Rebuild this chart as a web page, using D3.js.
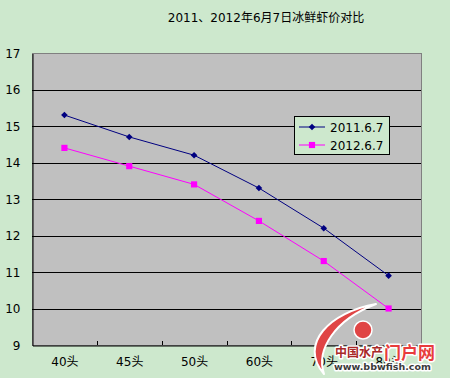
<script src='https://d3js.org/d3.v7.min.js'></script>
<style>
body { margin:0; background:#cde8cd; }
svg text { font-family: "DejaVu Sans", "Noto Sans CJK SC", sans-serif; }
</style>
<body>
<script>
// chart data
const categories = ["40头", "45头", "50头", "60头", "70头", "80头"];
const price2011 = [15.3, 14.7, 14.2, 13.3, 12.2, 10.9];
const price2012 = [14.4, 13.9, 13.4, 12.4, 11.3, 10.0];
const seriesNames = ["2011.6.7", "2012.6.7"];
const yTicks = [9, 10, 11, 12, 13, 14, 15, 16, 17];
const title = "2011、2012年6月7日冰鲜虾价对比";

const width = 450, height = 378;
const pLeft = 32, pRight = 421, pTop = 53, pBottom = 345;

const svg = d3.select("body").append("svg")
  .attr("width", width).attr("height", height);

svg.append("rect").attr("width", width).attr("height", height).attr("fill", "#cde8cd");

svg.append("text")
  .attr("x", 266).attr("y", 22)
  .attr("text-anchor", "middle")
  .attr("font-size", 12)
  .attr("fill", "#000")
  .text(title);

const x = d3.scaleBand().domain(categories).range([pLeft, pRight]);
const y = d3.scaleLinear().domain([9, 17]).range([pBottom, pTop]);

// plot area
svg.append("rect")
  .attr("x", pLeft + 0.5).attr("y", pTop + 0.5)
  .attr("width", pRight - pLeft).attr("height", pBottom - pTop)
  .attr("fill", "#c0c0c0")
  .attr("stroke", "#808080");

// gridlines
svg.append("g").selectAll("line")
  .data(yTicks.slice(1, -1))
  .join("line")
  .attr("x1", pLeft).attr("x2", pRight)
  .attr("y1", d => Math.round(y(d)) + 0.5).attr("y2", d => Math.round(y(d)) + 0.5)
  .attr("stroke", "#000");

// y axis
const yAxis = svg.append("g")
  .attr("transform", `translate(${pLeft + 0.5},0.5)`)
  .call(d3.axisLeft(y).tickValues(yTicks).tickSize(0).tickPadding(12));
yAxis.select(".domain").attr("stroke", "#000");
yAxis.selectAll("text").attr("font-size", 12).attr("fill", "#000")
  .attr("font-family", "'Liberation Sans', sans-serif");

// x axis
const xAxis = svg.append("g")
  .attr("transform", `translate(0.5,${pBottom + 0.5})`)
  .call(d3.axisBottom(x).tickSize(0).tickPadding(12));
xAxis.select(".domain").attr("stroke", "#000");
xAxis.selectAll("text").attr("font-size", 12).attr("fill", "#000");
// ticks between categories, pointing up
svg.append("g").selectAll("line")
  .data(categories.slice(1))
  .join("line")
  .attr("x1", d => Math.round(x(d)) + 0.5).attr("x2", d => Math.round(x(d)) + 0.5)
  .attr("y1", pBottom).attr("y2", pBottom - 4)
  .attr("stroke", "#000");

const cx = d => x(d) + x.bandwidth() / 2;
const line = d3.line().x(d => cx(d.c)).y(d => y(d.v));

const series = [
  { name: seriesNames[0], vals: price2011, color: "#000080", shape: d3.symbolSquare, size: 22, rot: 45 },
  { name: seriesNames[1], vals: price2012, color: "#ff00ff", shape: d3.symbolSquare, size: 38, rot: 0 }
];

series.forEach(s => {
  const pts = categories.map((c, i) => ({ c: c, v: s.vals[i] }));
  svg.append("path").datum(pts)
    .attr("d", line)
    .attr("fill", "none")
    .attr("stroke", s.color)
    .attr("stroke-width", 1);
  svg.append("g").selectAll("path")
    .data(pts)
    .join("path")
    .attr("transform", d => `translate(${cx(d.c)},${y(d.v)}) rotate(${s.rot})`)
    .attr("d", d3.symbol().type(s.shape).size(s.size))
    .attr("fill", s.color);
});

// legend
const lg = svg.append("g").attr("transform", "translate(294,116)");
lg.append("rect").attr("x", 0.5).attr("y", 0.5).attr("width", 95).attr("height", 38)
  .attr("fill", "#cde8cd").attr("stroke", "#000");
series.forEach((s, i) => {
  const yy = 11 + i * 18;
  lg.append("line").attr("x1", 5).attr("x2", 31).attr("y1", yy).attr("y2", yy)
    .attr("stroke", s.color);
  lg.append("path").attr("transform", `translate(18,${yy}) rotate(${s.rot})`)
    .attr("d", d3.symbol().type(s.shape).size(s.size)).attr("fill", s.color);
  lg.append("text").attr("x", 36).attr("y", yy + 4.5)
    .attr("font-size", 12).attr("fill", "#000")
    .attr("font-family", "'Liberation Mono', monospace")
    .text(s.name);
});

// watermark
const wm = svg.append("g");
wm.append("path")
  .attr("d", "M376,304 C330,312 298,344 324,374 C316,350 334,320 376,304 Z")
  .attr("fill", "#e04545").attr("stroke", "#fff").attr("stroke-width", 2)
  .attr("stroke-linejoin", "round");
wm.append("circle").attr("cx", 363).attr("cy", 330).attr("r", 9)
  .attr("fill", "#e04545").attr("stroke", "#fff").attr("stroke-width", 1.5);
const wmText = (tx, ty, size, color, str) => wm.append("text")
  .attr("x", tx).attr("y", ty).attr("font-size", size).attr("font-weight", "bold")
  .attr("fill", color).attr("stroke", "#fff").attr("stroke-width", 3)
  .attr("stroke-linejoin", "round").style("paint-order", "stroke").text(str);
wmText(335, 357, 12, "#a82828", "中国水产");
wmText(384, 359, 17, "#e83c3c", "门户网");
wmText(334, 370, 9.5, "#3a3a3a", "www.bbwfish.com");
</script>
</body>
